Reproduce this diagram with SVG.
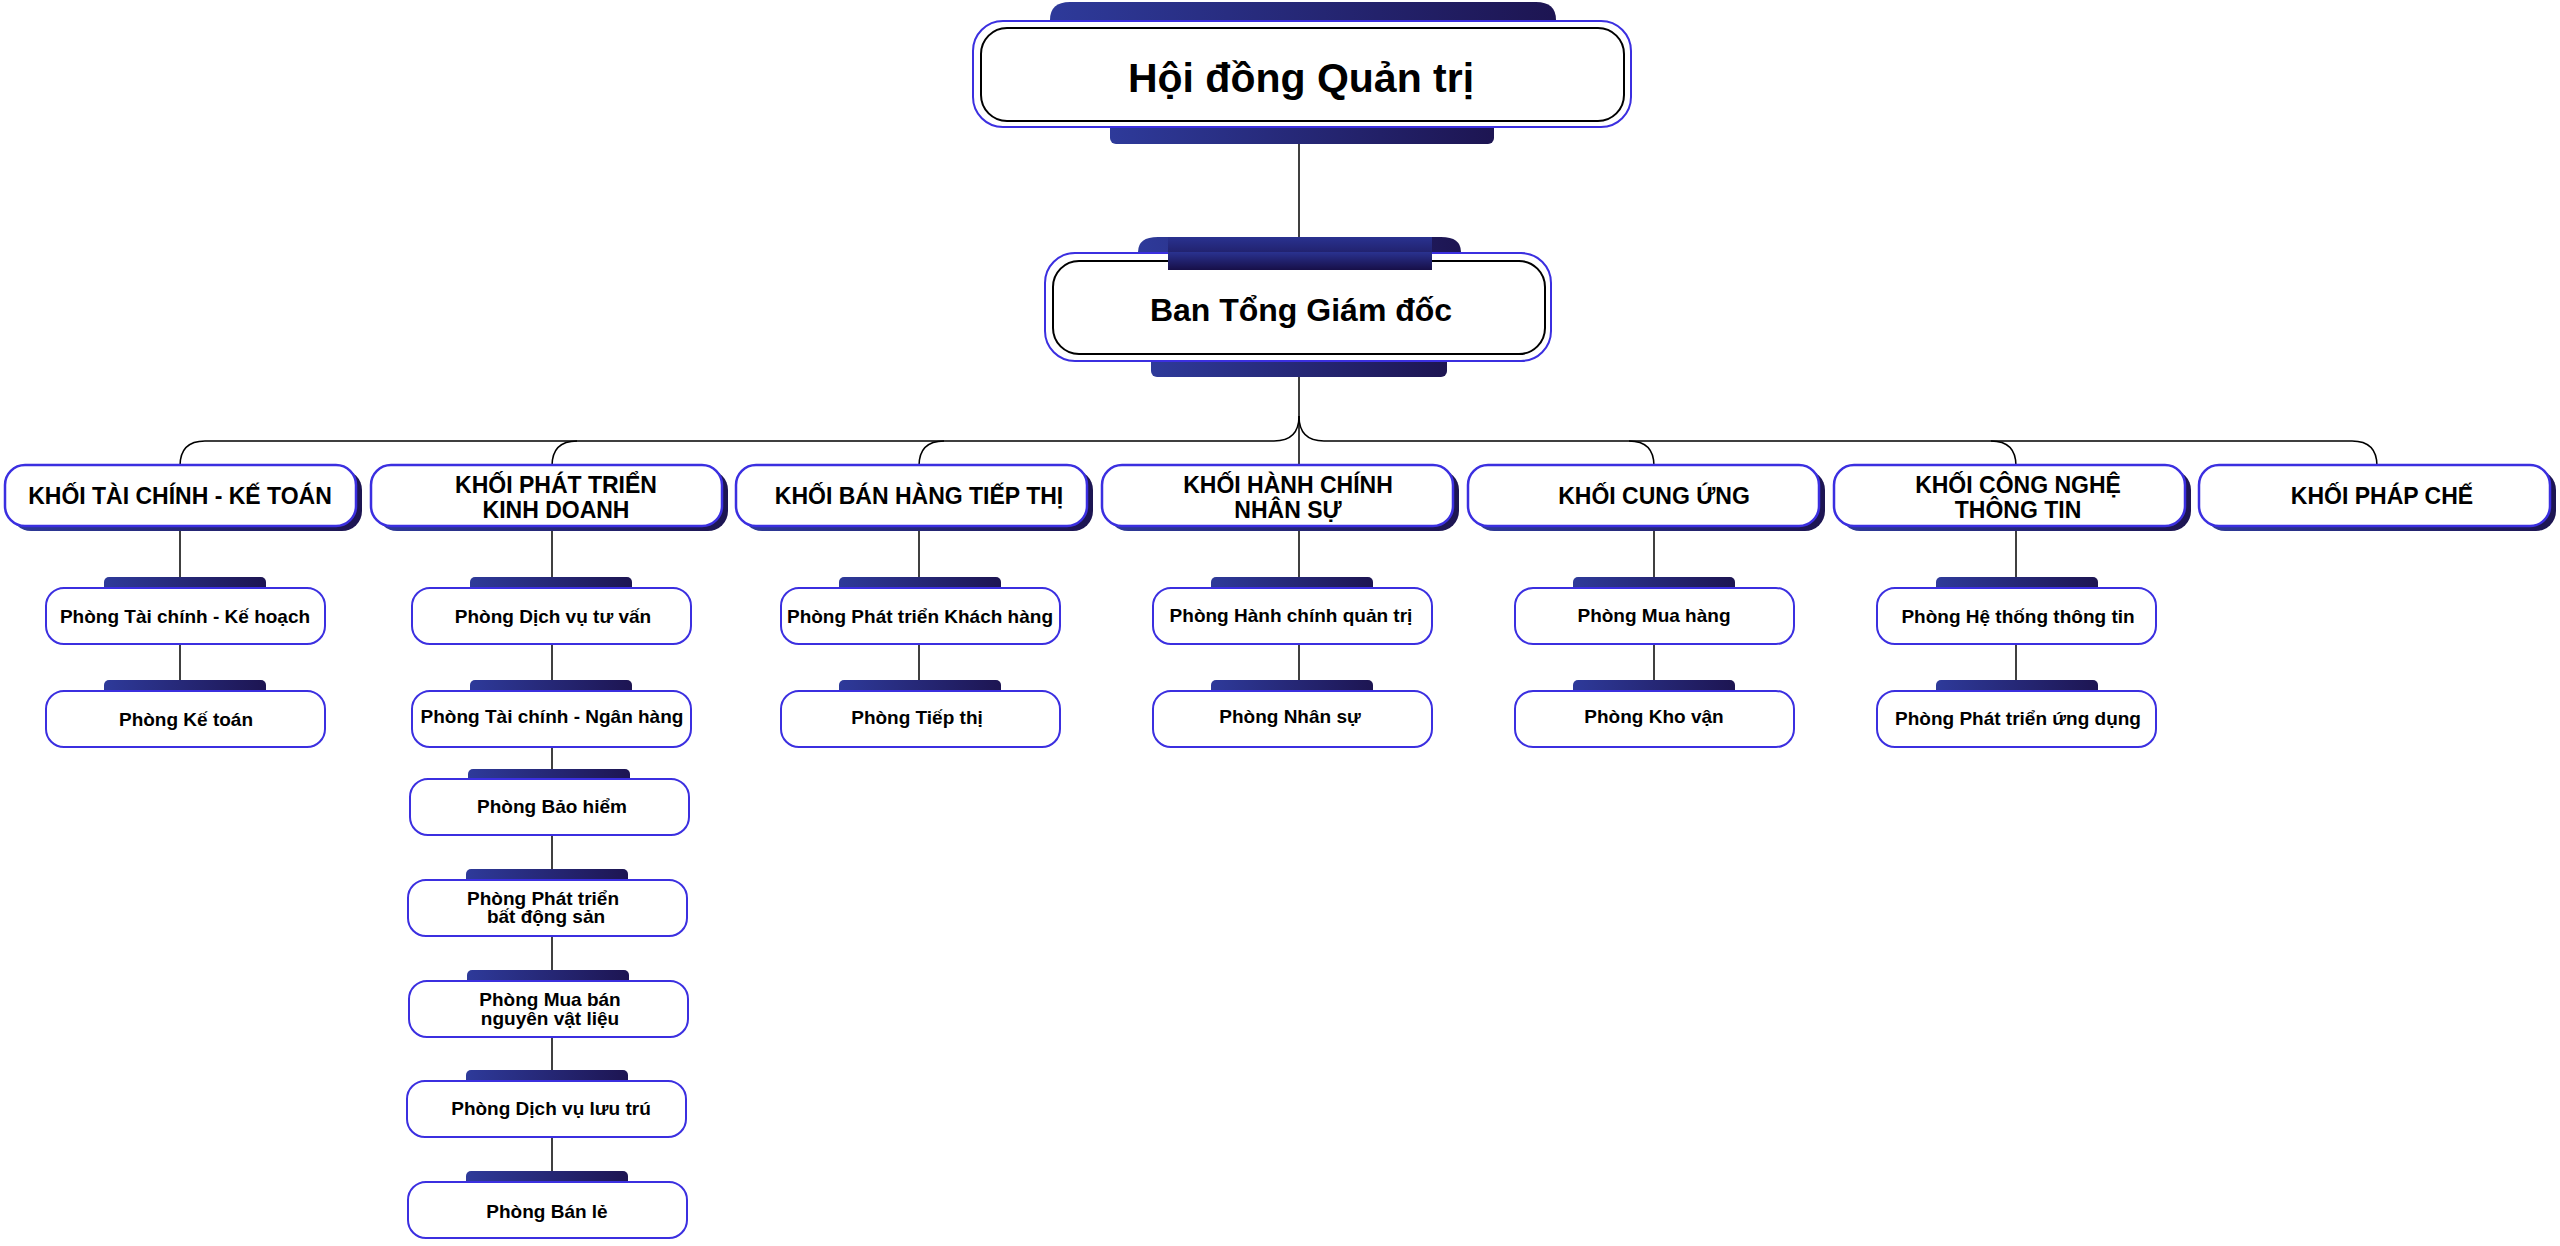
<svg xmlns="http://www.w3.org/2000/svg" width="2560" height="1246" viewBox="0 0 2560 1246">
<defs>
<linearGradient id="g" x1="0" y1="0" x2="1" y2="0"><stop offset="0" stop-color="#2e3a9a"/><stop offset="1" stop-color="#1d1552"/></linearGradient>
<linearGradient id="gv" x1="0" y1="0" x2="0" y2="1"><stop offset="0" stop-color="#2a3290"/><stop offset="1" stop-color="#170f48"/></linearGradient>
</defs>
<style>
.t{font-family:"Liberation Sans Narrow","Liberation Sans",Arial,sans-serif;font-weight:bold;fill:#000;text-anchor:middle}
.ob{fill:#fff;stroke:#3b2fe0;stroke-width:2}
.ib{fill:#fff;stroke:#000;stroke-width:2}
.sh{fill:url(#g)}
.k{fill:#fff;stroke:#3b2fe0;stroke-width:2.5}
.s{fill:#fff;stroke:#3b2fe0;stroke-width:2}
.c{fill:none;stroke:#000;stroke-width:1.5}
.h{font-size:23px}
.p{font-size:19px}
</style>
<g id="connectors">
<path class="c" d="M1299 144V237"/>
<path class="c" d="M1299 377V416Q1299 441 1274 441H205Q180 441 180 466"/>
<path class="c" d="M577 441Q552 441 552 466"/>
<path class="c" d="M944 441Q919 441 919 466"/>
<path class="c" d="M1299 416Q1299 441 1324 441H2352Q2377 441 2377 466"/>
<path class="c" d="M1629 441Q1654 441 1654 466"/>
<path class="c" d="M1991 441Q2016 441 2016 466"/>
<path class="c" d="M1299 416V466"/>
<path class="c" d="M180 526V691"/>
<path class="c" d="M552 526V1182"/>
<path class="c" d="M919 526V691"/>
<path class="c" d="M1299 526V691"/>
<path class="c" d="M1654 526V691"/>
<path class="c" d="M2016 526V691"/>
</g>
<g id="n-hdqt">
<path class="sh" d="M1050 27V20Q1050 2 1070 2H1536Q1556 2 1556 20V27Z"/>
<rect class="sh" x="1110" y="118" width="384" height="26" rx="6"/>
<rect class="ob" x="973" y="21" width="658" height="106" rx="30"/>
<rect class="ib" x="981" y="28" width="643" height="93" rx="26"/>
<text class="t" x="1301" y="92" font-size="41">Hội đồng Quản trị</text>
</g>
<g id="n-btgd">
<path class="sh" d="M1138 258V252Q1138 237 1158 237H1441Q1461 237 1461 252V258Z"/>
<rect fill="url(#gv)" x="1168" y="237" width="264" height="33"/>
<rect class="sh" x="1151" y="350" width="296" height="27" rx="6"/>
<rect class="ob" x="1045" y="253" width="506" height="108" rx="30"/>
<rect class="ib" x="1053" y="261" width="492" height="93" rx="26"/>
<rect fill="url(#gv)" x="1168" y="252" width="264" height="18"/>
<text class="t" x="1301" y="321" font-size="32">Ban Tổng Giám đốc</text>
</g>
<g id="k1"><rect class="sh" x="11" y="470" width="351" height="61" rx="20"/><rect class="k" x="5" y="465" width="351" height="61" rx="20"/><text class="t h" x="180" y="504">KHỐI TÀI CHÍNH - KẾ TOÁN</text></g>
<g id="k2"><rect class="sh" x="377" y="470" width="351" height="61" rx="20"/><rect class="k" x="371" y="465" width="351" height="61" rx="20"/><text class="t h" x="556" y="493">KHỐI PHÁT TRIỂN</text><text class="t h" x="556" y="518">KINH DOANH</text></g>
<g id="k3"><rect class="sh" x="742" y="470" width="351" height="61" rx="20"/><rect class="k" x="736" y="465" width="351" height="61" rx="20"/><text class="t h" x="919" y="504">KHỐI BÁN HÀNG TIẾP THỊ</text></g>
<g id="k4"><rect class="sh" x="1108" y="470" width="351" height="61" rx="20"/><rect class="k" x="1102" y="465" width="351" height="61" rx="20"/><text class="t h" x="1288" y="493">KHỐI HÀNH CHÍNH</text><text class="t h" x="1288" y="518">NHÂN SỰ</text></g>
<g id="k5"><rect class="sh" x="1474" y="470" width="351" height="61" rx="20"/><rect class="k" x="1468" y="465" width="351" height="61" rx="20"/><text class="t h" x="1654" y="504">KHỐI CUNG ỨNG</text></g>
<g id="k6"><rect class="sh" x="1840" y="470" width="351" height="61" rx="20"/><rect class="k" x="1834" y="465" width="351" height="61" rx="20"/><text class="t h" x="2018" y="493">KHỐI CÔNG NGHỆ</text><text class="t h" x="2018" y="518">THÔNG TIN</text></g>
<g id="k7"><rect class="sh" x="2205" y="470" width="351" height="61" rx="20"/><rect class="k" x="2199" y="465" width="351" height="61" rx="20"/><text class="t h" x="2382" y="504">KHỐI PHÁP CHẾ</text></g>

<g id="s1a"><rect class="sh" x="104" y="577" width="162" height="18" rx="5"/><rect class="s" x="46" y="588" width="279" height="56" rx="18"/><text class="t p" x="185" y="623">Phòng Tài chính - Kế hoạch</text></g>
<g id="s1b"><rect class="sh" x="104" y="680" width="162" height="18" rx="5"/><rect class="s" x="46" y="691" width="279" height="56" rx="18"/><text class="t p" x="186" y="726">Phòng Kế toán</text></g>

<g id="s2a"><rect class="sh" x="470" y="577" width="162" height="18" rx="5"/><rect class="s" x="412" y="588" width="279" height="56" rx="18"/><text class="t p" x="553" y="623">Phòng Dịch vụ tư vấn</text></g>
<g id="s2b"><rect class="sh" x="470" y="680" width="162" height="18" rx="5"/><rect class="s" x="412" y="691" width="279" height="56" rx="18"/><text class="t p" x="552" y="723">Phòng Tài chính - Ngân hàng</text></g>
<g id="s2c"><rect class="sh" x="468" y="769" width="162" height="18" rx="5"/><rect class="s" x="410" y="779" width="279" height="56" rx="18"/><text class="t p" x="552" y="813">Phòng Bảo hiểm</text></g>
<g id="s2d"><rect class="sh" x="466" y="869" width="162" height="18" rx="5"/><rect class="s" x="408" y="880" width="279" height="56" rx="18"/><text class="t p" x="543" y="905">Phòng Phát triển</text><text class="t p" x="546" y="923">bất động sản</text></g>
<g id="s2e"><rect class="sh" x="467" y="970" width="162" height="18" rx="5"/><rect class="s" x="409" y="981" width="279" height="56" rx="18"/><text class="t p" x="550" y="1006">Phòng Mua bán</text><text class="t p" x="550" y="1025">nguyên vật liệu</text></g>
<g id="s2f"><rect class="sh" x="466" y="1070" width="162" height="18" rx="5"/><rect class="s" x="407" y="1081" width="279" height="56" rx="18"/><text class="t p" x="551" y="1115">Phòng Dịch vụ lưu trú</text></g>
<g id="s2g"><rect class="sh" x="466" y="1171" width="162" height="18" rx="5"/><rect class="s" x="408" y="1182" width="279" height="56" rx="18"/><text class="t p" x="547" y="1218">Phòng Bán lẻ</text></g>

<g id="s3a"><rect class="sh" x="839" y="577" width="162" height="18" rx="5"/><rect class="s" x="781" y="588" width="279" height="56" rx="18"/><text class="t p" x="920" y="623">Phòng Phát triển Khách hàng</text></g>
<g id="s3b"><rect class="sh" x="839" y="680" width="162" height="18" rx="5"/><rect class="s" x="781" y="691" width="279" height="56" rx="18"/><text class="t p" x="917" y="724">Phòng Tiếp thị</text></g>

<g id="s4a"><rect class="sh" x="1211" y="577" width="162" height="18" rx="5"/><rect class="s" x="1153" y="588" width="279" height="56" rx="18"/><text class="t p" x="1291" y="622">Phòng Hành chính quản trị</text></g>
<g id="s4b"><rect class="sh" x="1211" y="680" width="162" height="18" rx="5"/><rect class="s" x="1153" y="691" width="279" height="56" rx="18"/><text class="t p" x="1290" y="723">Phòng Nhân sự</text></g>

<g id="s5a"><rect class="sh" x="1573" y="577" width="162" height="18" rx="5"/><rect class="s" x="1515" y="588" width="279" height="56" rx="18"/><text class="t p" x="1654" y="622">Phòng Mua hàng</text></g>
<g id="s5b"><rect class="sh" x="1573" y="680" width="162" height="18" rx="5"/><rect class="s" x="1515" y="691" width="279" height="56" rx="18"/><text class="t p" x="1654" y="723">Phòng Kho vận</text></g>

<g id="s6a"><rect class="sh" x="1936" y="577" width="162" height="18" rx="5"/><rect class="s" x="1877" y="588" width="279" height="56" rx="18"/><text class="t p" x="2018" y="623">Phòng Hệ thống thông tin</text></g>
<g id="s6b"><rect class="sh" x="1936" y="680" width="162" height="18" rx="5"/><rect class="s" x="1877" y="691" width="279" height="56" rx="18"/><text class="t p" x="2018" y="725">Phòng Phát triển ứng dụng</text></g>
</svg>
